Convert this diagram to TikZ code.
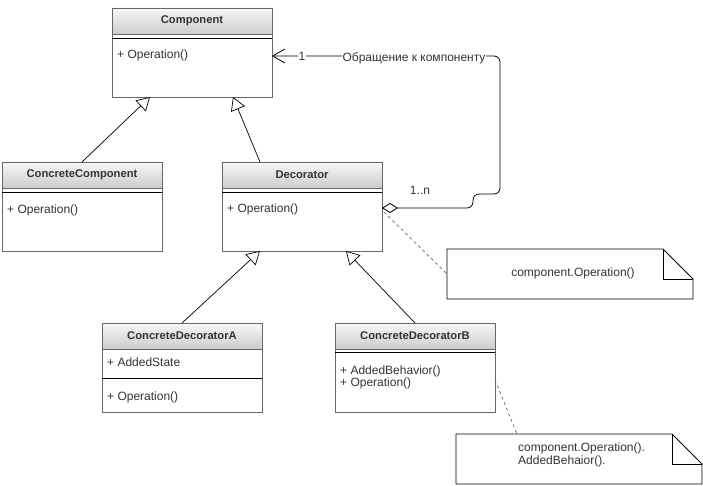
\documentclass[tikz,border=0pt]{standalone}
\usepackage{fontspec}
\setmainfont{Liberation Sans}
\usetikzlibrary{arrows.meta,calc}
\definecolor{edgec}{HTML}{666666}
\definecolor{txt}{HTML}{333333}
\newcommand\umlcls[3]{%
  \node[clsbox] (#1) at (#2) {};
  \fill[hdr] (#1.north west) rectangle ($(#1.north east)+(0,26)$);
  \draw[edgeline] ($(#1.north west)+(0,26)$) -- ($(#1.north east)+(0,26)$);
  \draw[edgeline] (#1.north west) rectangle (#1.south east);
  \node[ttl] (#1-title) at ($(#1.north)+(0,13)$) {#3};
}
\begin{document}
\begin{tikzpicture}[x=1pt,y=-1pt,
  clsbox/.style={minimum width=160pt, minimum height=89pt, anchor=north west, inner sep=0pt, outer sep=0pt},
  edgeline/.style={draw=edgec, line width=0.8pt},
  hdr/.style={top color=black!3, bottom color=black!20},
  ttl/.style={font=\fontsize{11.2}{13}\selectfont\bfseries, text=txt, inner sep=0pt},
  mem/.style={font=\fontsize{12}{13}\selectfont, text=txt, anchor=west, inner sep=0pt},
  sepline/.style={line width=0.8pt, draw=black},
  gen/.style={draw=black, line width=0.7pt, -{Triangle[open, length=13pt, width=15pt, fill=white]}},
  assoc/.style={draw=black, line width=0.8pt, rounded corners=6pt,
     {Straight Barb[length=12pt,width=14pt]}-{Diamond[open,length=16pt,width=10pt,fill=white]}},
  lbl/.style={font=\fontsize{12}{13}\selectfont, text=txt, inner sep=1pt},
  dashline/.style={draw=edgec, line width=0.7pt, dash pattern=on 3pt off 3pt},
  notebox/.style={minimum width=246pt, minimum height=50pt, anchor=north west, inner sep=0pt, outer sep=0pt},
  notetxt/.style={font=\fontsize{12}{13}\selectfont, text=txt, inner sep=0pt, align=left}
]
\useasboundingbox (0,0) rectangle (703,486);
\fill[white] (0,0) rectangle (703,486);

% classes
\umlcls{comp}{112,8}{Component}
\umlcls{cc}{2,162}{ConcreteComponent}
\umlcls{dec}{222,162}{Decorator}
\umlcls{cda}{102,323}{ConcreteDecoratorA}
\umlcls{cdb}{335,323}{ConcreteDecoratorB}

% separators
\draw[sepline] ($(comp.north west)+(0,30)$) -- ($(comp.north east)+(0,30)$);
\draw[sepline] ($(cc.north west)+(0,30)$) -- ($(cc.north east)+(0,30)$);
\draw[sepline] ($(dec.north west)+(0,30)$) -- ($(dec.north east)+(0,30)$);
\draw[sepline] ($(cda.north west)+(0,55)$) -- ($(cda.north east)+(0,55)$);
\draw[sepline] ($(cdb.north west)+(0,29)$) -- ($(cdb.north east)+(0,29)$);

% members
\node[mem] (comp-op) at ($(comp.north west)+(5,47)$) {+ Operation()};
\node[mem] (cc-op) at ($(cc.north west)+(5,48)$) {+ Operation()};
\node[mem] (dec-op) at ($(dec.north west)+(5,47)$) {+ Operation()};
\node[mem] (cda-st) at ($(cda.north west)+(5,39)$) {+ AddedState};
\node[mem] (cda-op) at ($(cda.north west)+(5,74)$) {+ Operation()};
\node[mem] (cdb-ab) at ($(cdb.north west)+(5,48)$) {+ AddedBehavior()};
\node[mem] (cdb-op) at ($(cdb.north west)+(5,60)$) {+ Operation()};

% generalisations
\draw[gen] (cc.north) -- ($(comp.south west)+(38,0)$);
\draw[gen] ($(dec.north west)+(38,0)$) -- ($(comp.south east)+(-39,0)$);
\draw[gen] (cda.north) -- ($(dec.south west)+(38,0)$);
\draw[gen] (cdb.north) -- ($(dec.south east)+(-36,0)$);

% association
\coordinate (compR) at ($(comp.north east)+(0,48)$);
\coordinate (decR) at ($(dec.north east)+(0,46)$);
\coordinate (a1) at (500,56);
\coordinate (a2) at (500,194);
\coordinate (a3) at (473,194);
\coordinate (a4) at (473,208);
\draw[assoc] (compR) -- (a1) -- (a2) -- (a3) -- (a4) -- (decR);
\node[lbl, fill=white] (m1) at (302,56) {1};
\node[lbl, fill=white] (aname) at (414,58) {Обращение к компоненту};
\node[lbl] (mn) at (420,190) {1..n};

% notes
\node[notebox] (note1) at (447,249) {};
\draw[draw=black, line width=0.8pt, fill=white] (note1.north west) -- ($(note1.north east)+(-30,0)$) -- ($(note1.north east)+(0,30)$) -- (note1.south east) -- (note1.south west) -- cycle;
\draw[draw=black, line width=0.8pt] ($(note1.north east)+(-30,0)$) -- ($(note1.north east)+(-30,30)$) -- ($(note1.north east)+(0,30)$);
\node[notetxt] (note1-t) at (573,273) {component.Operation()};

\node[notebox] (note2) at (456,434) {};
\draw[draw=black, line width=0.8pt, fill=white] (note2.north west) -- ($(note2.north east)+(-30,0)$) -- ($(note2.north east)+(0,30)$) -- (note2.south east) -- (note2.south west) -- cycle;
\draw[draw=black, line width=0.8pt] ($(note2.north east)+(-30,0)$) -- ($(note2.north east)+(-30,30)$) -- ($(note2.north east)+(0,30)$);
\node[notetxt, anchor=north west] (note2-t) at (518,443) {component.Operation().\\AddedBehaior().};

% note links
\draw[dashline] ($(dec.north east)+(2,50)$) -- (note1.west);
\draw[dashline] ($(cdb.north east)+(0,57)$) -- ($(note2.north west)+(61,0)$);
\end{tikzpicture}
\end{document}
